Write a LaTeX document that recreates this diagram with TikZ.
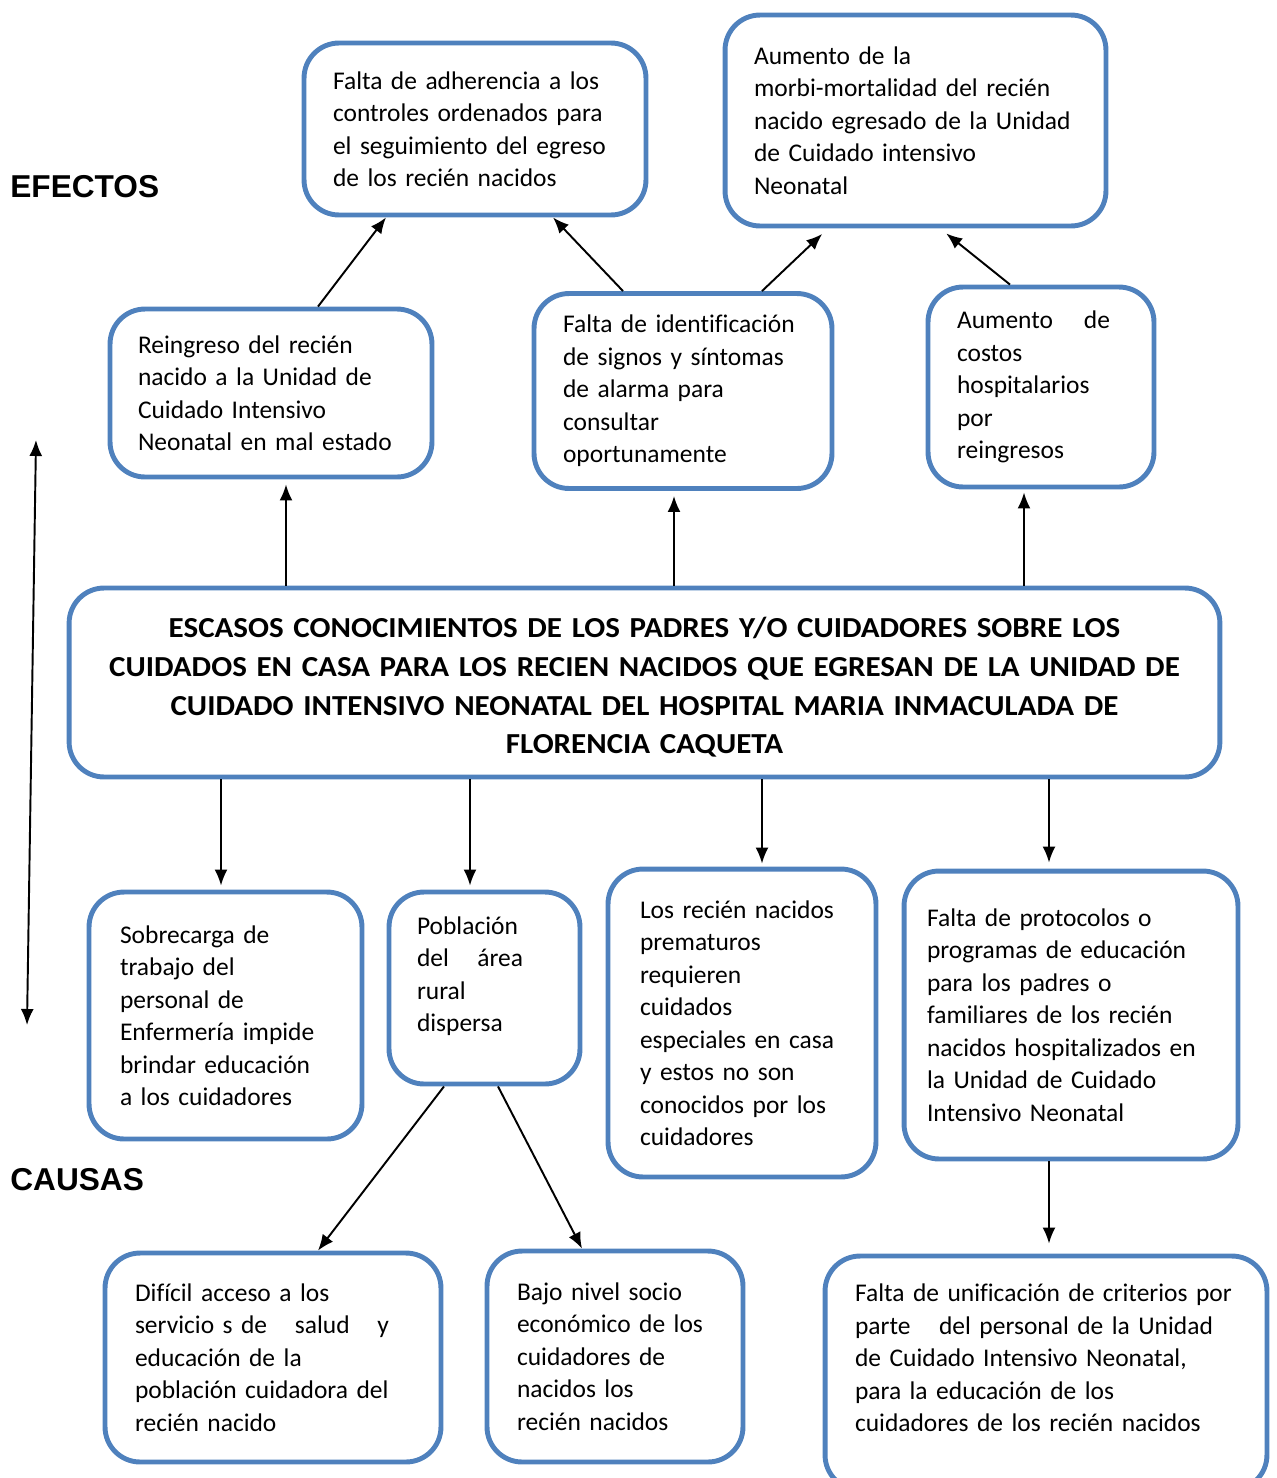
\documentclass[tikz,border=0pt]{standalone}
\usepackage{fontspec}
\setmainfont[Ligatures=NoCommon]{Carlito}
\newfontfamily\titulofont{Liberation Sans}
\newfontfamily\anchafont[FakeStretch=1.07]{Carlito}
\usepackage{tikz}
\usetikzlibrary{arrows.meta,calc}
\definecolor{azul}{HTML}{4F81BD}
\tikzset{
  caja/.style={draw=azul, line width=2.8pt, rounded corners=0.7cm, fill=white, align=left, inner sep=0pt, font=\fontsize{14.5}{18.5}\selectfont},
  central/.style={draw=azul, line width=2.8pt, rounded corners=0.7cm, fill=white, align=center, inner sep=0pt, font=\anchafont\fontsize{16.5}{22}\selectfont\bfseries},
  rotulo/.style={anchor=west, inner sep=0pt, font=\titulofont\fontsize{18}{22}\selectfont\bfseries},
  flecha/.style={-{Latex[length=3.2mm,width=2.6mm]}, line width=1.1pt},
  doble/.style={{Latex[length=3.2mm,width=2.6mm]}-{Latex[length=3.2mm,width=2.6mm]}, line width=1.1pt}
}

\begin{document}
\begin{tikzpicture}[x=0.02cm, y=-0.02cm]
\useasboundingbox (0,0) rectangle (1277,1478);

\node[rotulo] (efectos) at (10,187) {EFECTOS};
\node[rotulo] (causas) at (10,1180) {CAUSAS};

\node[caja, minimum width=6.84cm, minimum height=3.44cm, text width=5.68cm] (adherencia) at (475,129)
  {Falta de adherencia a los\\controles ordenados para\\el seguimiento del egreso\\de los recién nacidos};
\node[caja, minimum width=7.62cm, minimum height=4.22cm, text width=6.46cm] (morbi) at (915.5,120.5)
  {Aumento de la\\morbi-mortalidad del recién\\nacido egresado de la Unidad\\de Cuidado intensivo\\Neonatal};
\node[caja, minimum width=6.44cm, minimum height=3.36cm, text width=5.32cm] (reingreso) at (271,393)
  {Reingreso del recién\\nacido a la Unidad de\\Cuidado Intensivo\\Neonatal en mal estado};
\node[caja, minimum width=5.96cm, minimum height=3.9cm, text width=4.8cm] (signos) at (683,391)
  {Falta de identificación\\de signos y síntomas\\de alarma para\\consultar\\oportunamente};
\node[caja, minimum width=4.52cm, minimum height=4cm, text width=3.36cm] (costos) at (1041,387)
  {\makebox[3.06cm]{Aumento\hfill de}\\costos\\hospitalarios\\por\\reingresos};

\node[central, minimum width=23.02cm, minimum height=3.78cm, text width=22.4cm] (problema) at (644.5,682.5)
  {\rule{0pt}{0.6cm}ESCASOS CONOCIMIENTOS DE LOS PADRES Y/O CUIDADORES SOBRE LOS\\CUIDADOS EN CASA PARA LOS RECIEN NACIDOS QUE EGRESAN DE LA UNIDAD DE\\CUIDADO INTENSIVO NEONATAL DEL HOSPITAL MARIA INMACULADA DE\\FLORENCIA CAQUETA};

\node[caja, minimum width=5.46cm, minimum height=4.94cm, text width=4.22cm] (sobrecarga) at (225.5,1015.5)
  {Sobrecarga de\\trabajo del\\personal de\\Enfermería impide\\brindar educación\\a los cuidadores};
\node[caja, minimum width=3.82cm, minimum height=3.84cm, text width=2.7cm] (poblacion) at (484.5,988)
  {Población\\\makebox[2.12cm]{del\hfill área}\\rural\\dispersa\rule[-0.56cm]{0pt}{0.56cm}};
\node[caja, minimum width=5.36cm, minimum height=6.16cm, text width=4.08cm] (prematuros) at (742,1023)
  {Los recién nacidos\\prematuros\\requieren\\cuidados\\especiales en casa\\y estos no son\\conocidos por los\\cuidadores};
\node[caja, minimum width=6.68cm, minimum height=5.76cm, text width=5.76cm] (protocolos) at (1071,1015)
  {Falta de protocolos o\\programas de educación\\para los padres o\\familiares de los recién\\nacidos hospitalizados en\\la Unidad de Cuidado\\Intensivo Neonatal};

\node[caja, minimum width=6.72cm, minimum height=4.18cm, text width=5.52cm] (acceso) at (273,1357.5)
  {Difícil acceso a los\\\makebox[5.08cm]{servicio s de\hfill salud\hfill y}\\educación de la\\población cuidadora del\\recién nacido};
\node[caja, minimum width=5.12cm, minimum height=4.22cm, text width=3.92cm] (socio) at (615,1356.5)
  {Bajo nivel socio\\económico de los\\cuidadores de\\nacidos los\\recién nacidos};
\node[caja, minimum width=8.84cm, minimum height=4.68cm, text width=7.64cm] (unificacion) at (1046,1373)
  {Falta de unificación de criterios por\\\makebox[7.16cm]{parte\hfill del personal de la Unidad}\\de Cuidado Intensivo Neonatal,\\para la educación de los\\cuidadores de los recién nacidos\rule[-0.6cm]{0pt}{0.6cm}};

\coordinate (arriba) at (36,440);
\coordinate (abajo) at (27,1025);
\draw[doble] (arriba) -- (abajo);

\draw[flecha] (reingreso.north -| 318,0) -- (adherencia.south -| 386,0);
\draw[flecha] (signos.north -| 623,0) -- (adherencia.south -| 553,0);
\draw[flecha, shorten >=0.16cm] (signos.north -| 762,0) -- (morbi.south -| 828,0);
\draw[flecha, shorten >=0.16cm] (costos.north -| 1010,0) -- (morbi.south -| 940,0);

\draw[flecha, shorten >=0.1cm] (problema.north -| 286,0) -- (reingreso.south -| 286,0);
\draw[flecha, shorten >=0.1cm] (problema.north -| 674,0) -- (signos.south -| 674,0);
\draw[flecha, shorten >=0.06cm] (problema.north -| 1024,0) -- (costos.south -| 1024,0);

\draw[flecha, shorten >=0.08cm] (problema.south -| 221,0) -- (sobrecarga.north -| 221,0);
\draw[flecha, shorten >=0.08cm] (problema.south -| 470,0) -- (poblacion.north -| 470,0);
\draw[flecha, shorten >=0.06cm] (problema.south -| 762,0) -- (prematuros.north -| 762,0);
\draw[flecha, shorten >=0.12cm] (problema.south -| 1049,0) -- (protocolos.north -| 1049,0);

\draw[flecha] (poblacion.south -| 444,0) -- (acceso.north -| 318,0);
\draw[flecha] (poblacion.south -| 498,0) -- (socio.north -| 582,0);
\draw[flecha, shorten >=0.2cm] (protocolos.south -| 1049,0) -- (unificacion.north -| 1049,0);
\end{tikzpicture}
\end{document}
